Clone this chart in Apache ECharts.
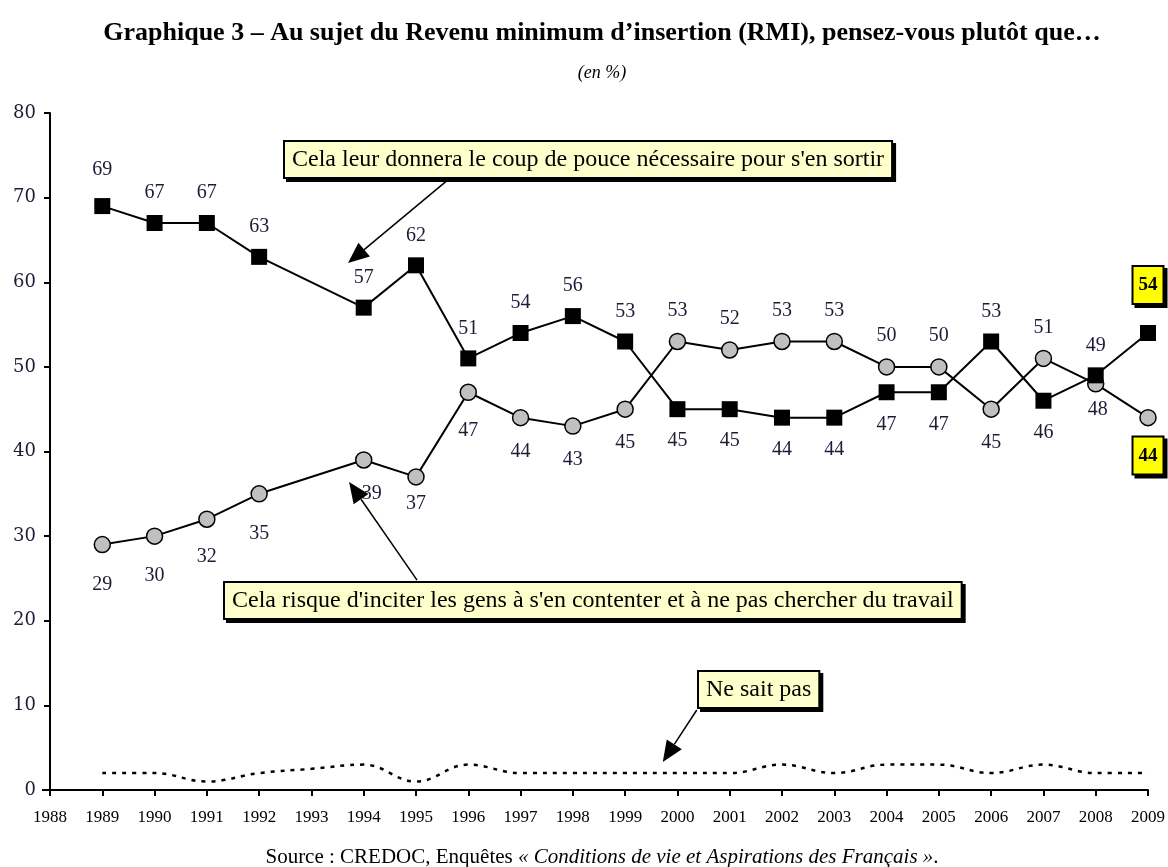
<!DOCTYPE html>
<html>
<head>
<meta charset="utf-8">
<script src="https://cdn.jsdelivr.net/npm/echarts@6/dist/echarts.min.js"></script>
<style>
  html, body { margin: 0; padding: 0; background: #fff; }
  #chart { width: 1168px; height: 867px; }
</style>
</head>
<body>
<div id="chart"></div>
<script>
// ---- Data ----
const years = [1989, 1990, 1991, 1992, 1993, 1994, 1995, 1996, 1997, 1998, 1999, 2000, 2001, 2002, 2003, 2004, 2005, 2006, 2007, 2008, 2009];
const coupDePouce = [69, 67, 67, 63, null, 57, 62, 51, 54, 56, 53, 45, 45, 44, 44, 47, 47, 53, 46, 49, 54];
const risqueContenter = [29, 30, 32, 35, null, 39, 37, 47, 44, 43, 45, 53, 52, 53, 53, 50, 50, 45, 51, 48, 44];
const neSaitPas = [2, 2, 1, 2, 2.5, 3, 1, 3, 2, 2, 2, 2, 2, 3, 2, 3, 3, 2, 3, 2, 2];
const yTicks = [0, 10, 20, 30, 40, 50, 60, 70, 80];

const titleText = 'Graphique 3 – Au sujet du Revenu minimum d’insertion (RMI), pensez-vous plutôt que…';
const subtitleText = '(en %)';
const labelCoup = "Cela leur donnera le coup de pouce nécessaire pour s'en sortir";
const labelRisque = "Cela risque d'inciter les gens à s'en contenter et à ne pas chercher du travail";
const labelNSP = 'Ne sait pas';

// ---- Layout helpers (label placement / annotation anchors only) ----
const squareBelowYears = [2000, 2001, 2002, 2003, 2004, 2005, 2007];
const circleAboveYears = [2000, 2001, 2002, 2003, 2004, 2005, 2007];
const lastYear = 2009;
const circleLabelOffsets = { 1989: [0, 6], 1990: [0, 6], 1991: [0, 4], 1992: [0, 6], 1994: [8, 0], 1995: [0, -7], 1996: [0, 5], 2008: [2, -8] };
const squareLabelOffsets = { 1989: [0, -6] };
// arrows: [fromX, fromY, toX, toY] in data space
const arrows = [
  [1995.61, 72.1, 1993.70, 62.27],
  [1995.02, 24.8, 1993.72, 36.4],
  [2000.37, 9.45, 1999.72, 3.31]
];

const SERIF = '"Liberation Serif", "Times New Roman", serif';
const labelColor = '#1c1c38';

function highlightBox(pos) {
  return {
    show: true, position: pos, distance: pos === 'top' ? 22 : 11,
    fontFamily: SERIF, fontSize: 19, fontWeight: 'bold', color: '#000',
    backgroundColor: '#ffff00', borderColor: '#000', borderWidth: 2,
    padding: [9, 5, 8, 5],
    shadowColor: '#000', shadowOffsetX: 3, shadowOffsetY: 3, shadowBlur: 0
  };
}

function buildSquare() {
  const out = [];
  years.forEach((y, i) => {
    const v = coupDePouce[i];
    if (v == null) return;
    const item = { value: [y, v] };
    if (y === lastYear) item.label = highlightBox('top');
    else if (squareBelowYears.includes(y)) item.label = { position: 'bottom', distance: 14 };
    else if (squareLabelOffsets[y]) item.label = { offset: squareLabelOffsets[y] };
    out.push(item);
  });
  return out;
}
function buildCircle() {
  const out = [];
  years.forEach((y, i) => {
    const v = risqueContenter[i];
    if (v == null) return;
    const item = { value: [y, v] };
    if (y === lastYear) item.label = highlightBox('bottom');
    else if (circleAboveYears.includes(y)) item.label = { position: 'top', distance: 12 };
    else if (circleLabelOffsets[y]) item.label = { offset: circleLabelOffsets[y] };
    out.push(item);
  });
  return out;
}
const nspData = years.map((y, i) => [y, neSaitPas[i]]);

const chart = echarts.init(document.getElementById('chart'), null, { renderer: 'canvas' });

const boxStyle = {
  font: '24px ' + SERIF, fill: '#000',
  backgroundColor: '#ffffcc', borderColor: '#000', borderWidth: 2,
  padding: [6, 7, 5, 7],
  shadowColor: '#000', shadowOffsetX: 3, shadowOffsetY: 3, shadowBlur: 0
};

const option = {
  animation: false,
  backgroundColor: '#fff',
  title: [
    { text: titleText, left: 597, top: 15, textAlign: 'center',
      textStyle: { fontFamily: SERIF, fontWeight: 'bold', fontSize: 26, color: '#000' } },
    { text: subtitleText, left: 597, top: 59, textAlign: 'center',
      textStyle: { fontFamily: SERIF, fontStyle: 'italic', fontWeight: 'normal', fontSize: 18, color: '#000' } },
    { text: '{n|Source : CREDOC, Enquêtes }{i|« Conditions de vie et Aspirations des Français »}{n|.}',
      left: 597, top: 842, textAlign: 'center',
      textStyle: { fontWeight: 'normal', rich: {
        n: { fontFamily: SERIF, fontSize: 21, fontWeight: 'normal', color: '#000' },
        i: { fontFamily: SERIF, fontSize: 21, fontWeight: 'normal', fontStyle: 'italic', color: '#000' } } } }
  ],
  grid: { left: 50, right: 20, top: 113, bottom: 77, containLabel: false },
  xAxis: {
    type: 'value', min: 1988, max: 2009, interval: 1,
    axisLine: { show: true, lineStyle: { color: '#000', width: 2 } },
    axisTick: { show: true, length: 6, lineStyle: { color: '#000', width: 2 } },
    axisLabel: { fontFamily: SERIF, fontSize: 17, color: '#000', margin: 19,
      formatter: v => String(v) },
    splitLine: { show: false }
  },
  yAxis: {
    type: 'value', min: yTicks[0], max: yTicks[yTicks.length - 1], interval: 10,
    axisLine: { show: true, lineStyle: { color: '#000', width: 2 } },
    axisTick: { show: true, length: 6, lineStyle: { color: '#000', width: 2 } },
    axisLabel: { fontFamily: '"DejaVu Serif", serif', fontSize: 18, color: labelColor, margin: 14 },
    splitLine: { show: false }
  },
  series: [
    {
      name: labelNSP, type: 'line', data: nspData, smooth: 0.4,
      showSymbol: false, symbol: 'none', z: 2,
      lineStyle: { color: '#000', width: 2.5, type: [4, 6] }
    },
    {
      name: labelRisque, type: 'line', data: buildCircle(), z: 3,
      symbol: 'circle', symbolSize: 16,
      itemStyle: { color: '#c0c0c0', borderColor: '#000', borderWidth: 1.5 },
      lineStyle: { color: '#000', width: 2 },
      label: { show: true, position: 'bottom', distance: 15,
        fontFamily: SERIF, fontSize: 20, color: labelColor,
        formatter: p => String(p.value[1]) }
    },
    {
      name: labelCoup, type: 'line', data: buildSquare(), z: 4,
      symbol: 'rect', symbolSize: 16,
      itemStyle: { color: '#000' },
      lineStyle: { color: '#000', width: 2 },
      label: { show: true, position: 'top', distance: 12,
        fontFamily: SERIF, fontSize: 20, color: labelColor,
        formatter: p => String(p.value[1]) }
    }
  ]
};
chart.setOption(option);

// Annotation arrows (positioned through the chart's own coordinate system)
function arrowGraphics() {
  const els = [];
  arrows.forEach(a => {
    const p0 = chart.convertToPixel({ gridIndex: 0 }, [a[0], a[1]]);
    const p1 = chart.convertToPixel({ gridIndex: 0 }, [a[2], a[3]]);
    const dx = p1[0] - p0[0], dy = p1[1] - p0[1];
    const len = Math.sqrt(dx * dx + dy * dy);
    const ux = dx / len, uy = dy / len;
    const headL = 21, headW = 9;
    const bx = p1[0] - ux * headL, by = p1[1] - uy * headL;
    els.push({ type: 'line', z: 9, silent: true,
      shape: { x1: p0[0], y1: p0[1], x2: bx, y2: by },
      style: { stroke: '#000', lineWidth: 1.5 } });
    els.push({ type: 'polygon', z: 9, silent: true,
      shape: { points: [[p1[0], p1[1]], [bx - uy * headW, by + ux * headW], [bx + uy * headW, by - ux * headW]] },
      style: { fill: '#000' } });
  });
  return els;
}

chart.setOption({
  graphic: [
    { type: 'text', left: 283, top: 140, z: 10, style: Object.assign({ text: labelCoup }, boxStyle) },
    { type: 'text', left: 223, top: 581, z: 10, style: Object.assign({ text: labelRisque }, boxStyle) },
    { type: 'text', left: 697, top: 670, z: 10, style: Object.assign({ text: labelNSP }, boxStyle) },
    { type: 'line', z: 1, silent: true, shape: { x1: 42, y1: 790, x2: 50, y2: 790 }, style: { stroke: '#000', lineWidth: 2 } }
  ].concat(arrowGraphics())
});
</script>
</body>
</html>
